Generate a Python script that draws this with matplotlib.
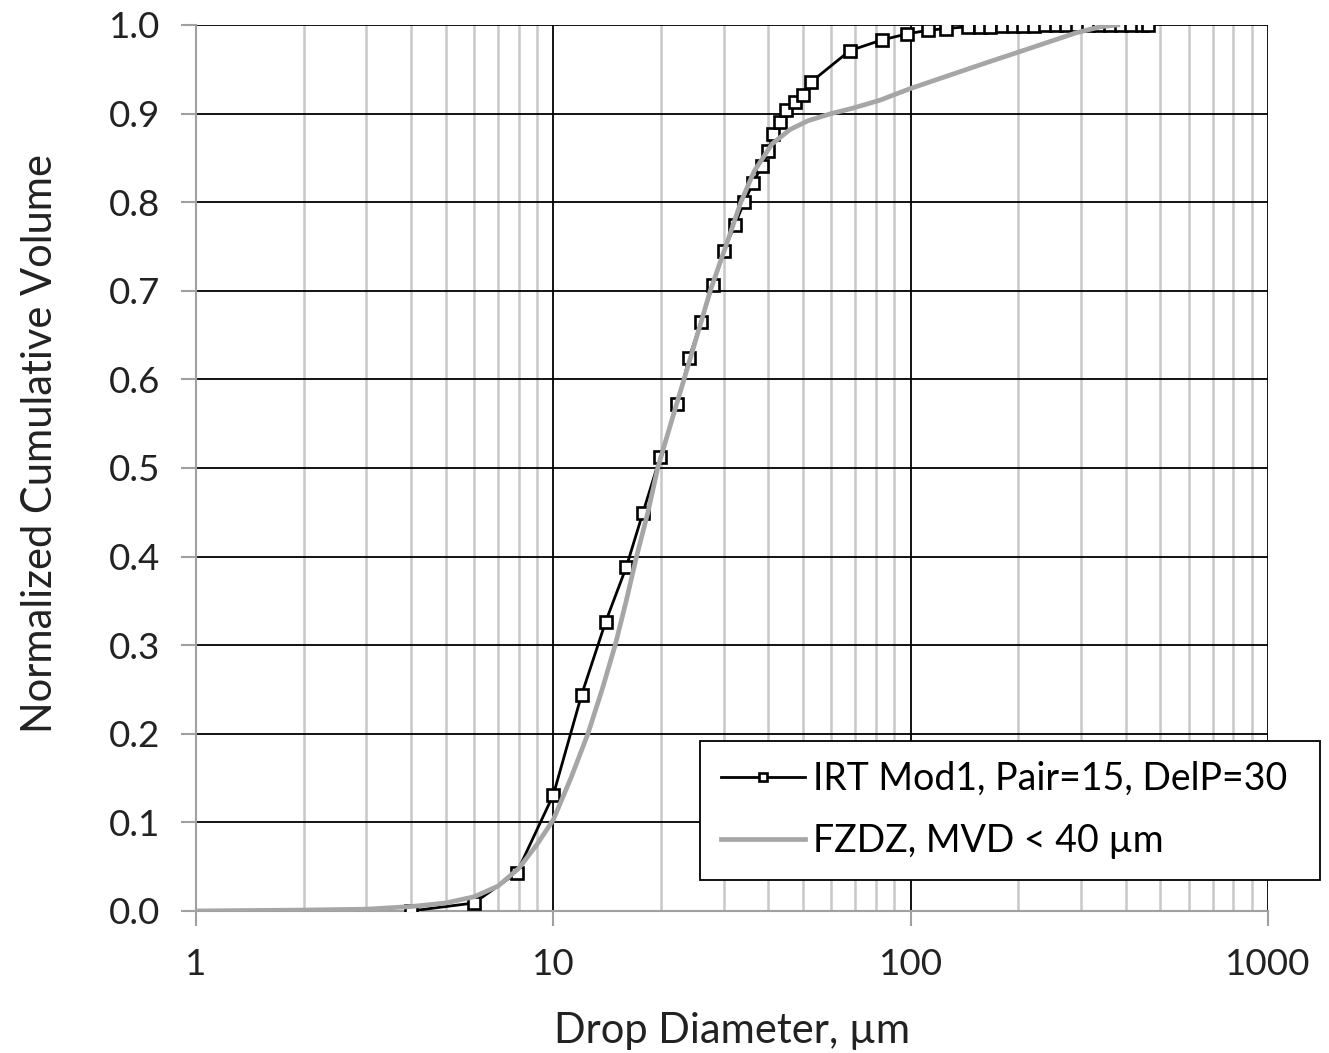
import matplotlib
matplotlib.use("Agg")
import matplotlib.pyplot as plt
from matplotlib.ticker import FixedLocator, LogLocator, NullFormatter

plt.rcParams['font.family'] = ['Lato', 'DejaVu Sans']

# IRT Mod1 measured points (diameter um, cumulative volume)
irt_d = [4.0, 6.0, 7.9, 10.0, 12.0, 14.0, 16.0, 17.8, 19.9, 22.2, 24.0, 25.9,
         28.0, 30.0, 32.2, 34.2, 36.3, 38.3, 40.0, 41.3, 43.0, 44.9, 47.6,
         49.9, 52.8, 67.6, 83.0, 97.9, 112, 126, 145, 156, 167, 180, 193,
         207, 222, 238, 255, 273, 293, 314, 337, 361, 387, 415, 445, 462]
irt_v = [0.0, 0.009, 0.043, 0.131, 0.244, 0.326, 0.388, 0.449, 0.512, 0.572,
         0.624, 0.665, 0.707, 0.745, 0.774, 0.800, 0.822, 0.841, 0.858,
         0.877, 0.891, 0.904, 0.913, 0.921, 0.936, 0.971, 0.983, 0.990,
         0.994, 0.996, 0.998, 0.998, 0.998, 0.999, 0.999, 0.999, 0.999,
         1.0, 1.0, 1.0, 1.0, 1.0, 1.0, 1.0, 1.0, 1.0, 1.0, 1.0]

# FZDZ reference curve, MVD < 40 um
fz_d = [1.0, 2.0, 3.0, 4.0, 5.0, 6.0, 7.0, 8.0, 9.0, 10.0, 11.2, 12.5, 13.7,
        14.9, 16.0, 17.1, 18.4, 19.6, 21.5, 23.5, 25.5, 27.5, 30.5, 33.5,
        36.5, 41.0, 46.0, 51.7, 60.0, 68.8, 82.0, 99.5, 128, 162, 217, 290,
        340, 380]
fz_v = [0.0, 0.001, 0.002, 0.005, 0.009, 0.016, 0.028, 0.048, 0.075, 0.103,
        0.150, 0.200, 0.250, 0.300, 0.350, 0.400, 0.450, 0.500, 0.555, 0.607,
        0.655, 0.700, 0.752, 0.800, 0.835, 0.866, 0.882, 0.892, 0.900,
        0.906, 0.915, 0.928, 0.943, 0.957, 0.974, 0.991, 0.998, 1.0]

x_ticks = [1, 10, 100, 1000]
y_ticks = [0.0, 0.1, 0.2, 0.3, 0.4, 0.5, 0.6, 0.7, 0.8, 0.9, 1.0]

fig = plt.figure(figsize=(13.29, 10.53), dpi=100)
ax = fig.add_axes([0.1475, 0.1349, 0.8065, 0.8414])

ax.plot(irt_d, irt_v, color='black', lw=2.0, marker='s', markersize=9,
        markerfacecolor='white', markeredgecolor='black', markeredgewidth=1.9,
        zorder=3, label='IRT Mod1, Pair=15, DelP=30')
ax.plot(fz_d, fz_v, color='#a6a6a6', lw=3.4, zorder=4,
        label='FZDZ, MVD < 40 µm')

ax.set_xscale('log')
ax.set_xlim(1, 1000)
ax.set_ylim(0, 1.0)
ax.xaxis.set_major_locator(FixedLocator(x_ticks))
ax.set_xticklabels([str(t) for t in x_ticks])
ax.xaxis.set_minor_locator(LogLocator(base=10, subs=range(2, 10)))
ax.xaxis.set_minor_formatter(NullFormatter())
ax.set_yticks(y_ticks)
ax.set_yticklabels(['%.1f' % t for t in y_ticks])

ax.grid(True, which='major', color='black', lw=1.3, zorder=1)
ax.grid(True, which='minor', axis='x', color='#c8c8c8', lw=1.8, zorder=0)
ax.set_axisbelow(True)

for s in ['top', 'right']:
    ax.spines[s].set_visible(False)
for s in ['left', 'bottom']:
    ax.spines[s].set_color('#a0a0a0')
    ax.spines[s].set_linewidth(1.5)
ax.tick_params(which='major', length=11, width=1.5, color='#a0a0a0',
               labelsize=26.5, pad=16, labelcolor='#222222')
ax.tick_params(which='minor', length=0)
ax.tick_params(axis='y', pad=15)

ax.set_xlabel('Drop Diameter, µm', fontsize=30, labelpad=22, color='#222222')
ax.set_ylabel('Normalized Cumulative Volume', fontsize=30, color='#222222')
ax.yaxis.set_label_coords(-0.128, 0.528)

leg = ax.legend(loc='center', bbox_to_anchor=(0.527, 0.1675, 0.466, 0.126),
                bbox_transform=fig.transFigure, mode='expand', fontsize=27,
                frameon=True, fancybox=False, edgecolor='black',
                handlelength=2.25, handletextpad=0.2, labelspacing=0.7,
                borderpad=0.55, borderaxespad=0, markerscale=0.6)
leg.get_frame().set_linewidth(1.3)
leg.get_frame().set_alpha(1)
leg.set_zorder(10)

fig.savefig('out.png', dpi=100)
